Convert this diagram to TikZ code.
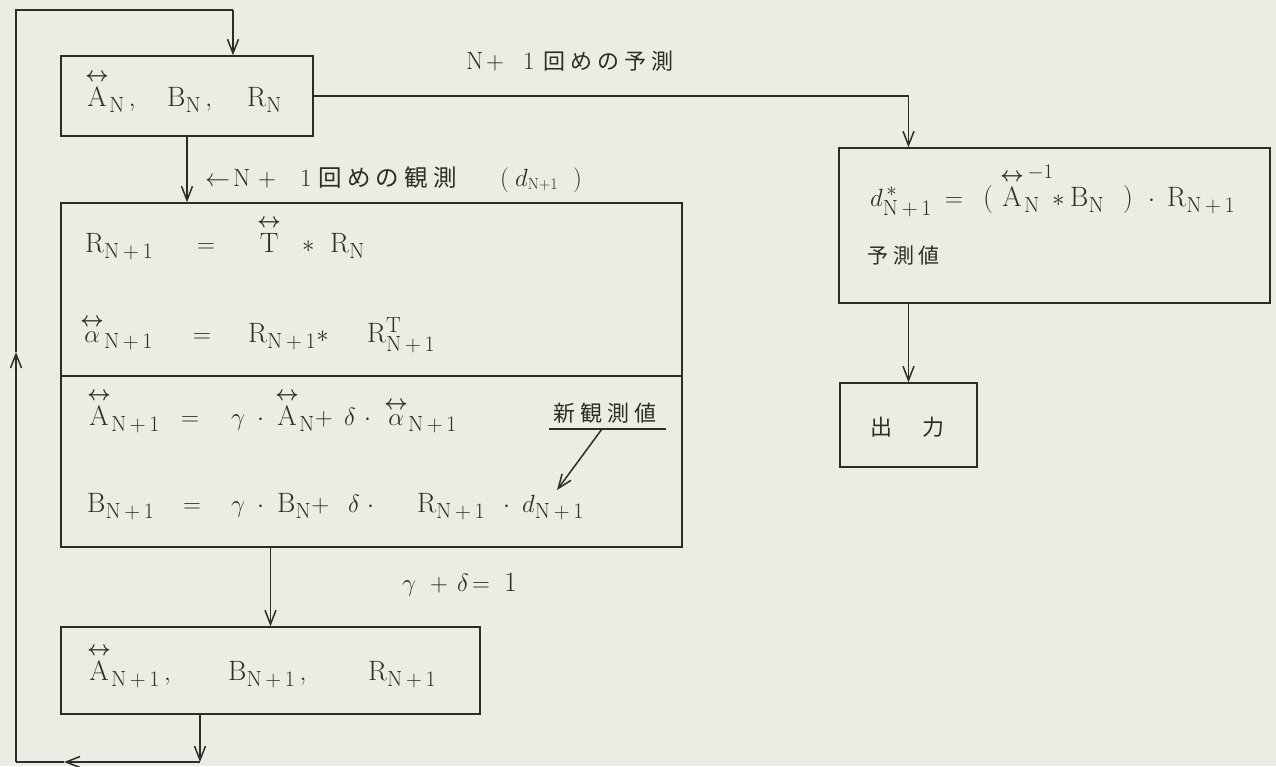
\documentclass[tikz,border=0pt]{standalone}
\usepackage{fontspec}
\usepackage{amsmath}
\usetikzlibrary{arrows.meta}
\newfontfamily\cjk[LetterSpace=23]{Noto Sans CJK JP}
\definecolor{paper}{RGB}{236,236,228}
\definecolor{ink}{RGB}{45,45,40}
\newcommand{\lra}[1]{\overset{\boldsymbol{\scriptstyle\leftrightarrow}}{#1}}
\newcommand{\ix}[1]{_{\text{\fontsize{22}{22}\selectfont #1}}}
\newcommand{\ixp}{_{\text{\fontsize{22}{22}\selectfont N\,+\,1}}}
\newcommand{\iy}[1]{\text{\fontsize{22}{22}\selectfont #1}}
\newcommand{\pc}[2]{\makebox[#1pt][l]{#2}}
\newcommand{\lat}[1]{{\fontsize{25}{25}\selectfont #1}}
\newcommand{\bigplus}{{\fontsize{34}{34}\selectfont$+$}}
\tikzset{
  box/.style={draw=ink, line width=1.5pt, rectangle, inner sep=0pt},
  arr/.style={draw=ink, line width=1.5pt, -{Straight Barb[length=14pt,width=11pt,line width=1.5pt]}},
  ln/.style={draw=ink, line width=1.5pt},
  eq/.style={text=ink, anchor=base west, inner sep=0pt, font=\fontsize{28}{32}\selectfont},
  lbl/.style={text=ink, anchor=base west, inner sep=0pt, font=\fontsize{22}{26}\selectfont},
}
\begin{document}
\begin{tikzpicture}[x=1pt,y=-1pt]
\fill[paper] (0,0) rectangle (1276,766);
\useasboundingbox (0,0) rectangle (1276,766);

% boxes
\node[box, minimum width=252pt, minimum height=80pt] (top) at (187,96) {};
\node[box, minimum width=621pt, minimum height=173pt] (upper) at (371.5,289.5) {};
\node[box, minimum width=621pt, minimum height=171pt] (lower) at (371.5,461.5) {};
\node[box, minimum width=419pt, minimum height=87pt] (bot) at (270.5,670.5) {};
\node[box, minimum width=431pt, minimum height=155pt] (rbox) at (1054.5,225.5) {};
\node[box, minimum width=137pt, minimum height=84pt] (outb) at (908.5,425) {};

% box texts
\node[eq] (toptxt) at (85,106) {\pc{82}{$\lra{\mathrm{A}}\ix{N}\,,$}\pc{80}{$\mathrm{B}\ix{N}\,,$}$\mathrm{R}\ix{N}$};
\node[eq] (bottxt) at (87,680) {\pc{141}{$\lra{\mathrm{A}}\ixp\,,$}\pc{140}{$\mathrm{B}\ixp\,,$}$\mathrm{R}\ixp$};
\node[lbl] (outtxt) at (870,435) {\fontsize{22}{26}\selectfont\cjk \pc{52}{出}力};

% equations
\node[eq] (l1) at (85,252) {\pc{112}{$\mathrm{R}\ixp$}\pc{60}{$=$}\pc{45}{$\lra{\mathrm{T}}$}\pc{28}{$*$}$\mathrm{R}\ix{N}$};
\node[eq] (l2) at (80,342) {\pc{113}{$\lra{\alpha}\ixp$}\pc{55}{$=$}\pc{119}{$\mathrm{R}\ixp{*}$}$\mathrm{R}^{\iy{T}}\ixp$};
\node[eq] (l3) at (87,425) {\pc{94}{$\lra{\mathrm{A}}\ixp$}\pc{50}{$=$}\pc{26}{$\gamma$}\pc{18}{$\cdot$}\pc{69}{$\lra{\mathrm{A}}\ix{N}{+}$}\pc{20}{$\delta$}\pc{20}{$\cdot$}$\lra{\alpha}\ixp$};
\node[eq] (l4) at (87,512) {\pc{96}{$\mathrm{B}\ixp$}\pc{48}{$=$}\pc{26}{$\gamma$}\pc{20}{$\cdot$}\pc{71}{$\mathrm{B}\ix{N}{+}$}\pc{19}{$\delta$}\pc{50}{$\cdot$}\pc{86}{$\mathrm{R}\ixp$}\pc{19}{$\cdot$}$d\ixp$};
\node[eq] (dstar) at (870,206) {\pc{75}{$d^{\,*}\ixp$}\pc{38}{$=$}\pc{17}{(}\pc{52}{$\lra{\mathrm{A}}\ix{N}^{\,-1}$}\pc{18}{$*$}\pc{53}{$\mathrm{B}\ix{N}$}\pc{25}{)}\pc{19}{$\cdot$}$\mathrm{R}\ixp$};
\node[lbl] (yosoku) at (867,263) {\fontsize{21}{26}\selectfont\cjk 予測値};

% labels
\node[lbl] (pred) at (466,69) {\pc{20}{\lat{N}}\pc{37}{\bigplus}\pc{20}{\lat{1}}{\cjk 回めの予測}};
\node[lbl] (obs) at (205,186) {\pc{28}{\fontsize{26}{26}\selectfont$\leftarrow$}\pc{25}{\lat{N}}\pc{42}{\bigplus}\pc{18}{\lat{1}}\pc{182}{\fontsize{23.5}{26}\selectfont\cjk 回めの観測}\pc{15}{\lat{(}}\pc{58}{\fontsize{26}{26}\selectfont$d_{\text{\fontsize{16}{16}\selectfont N+1}}$}\lat{)}};
\node[eq] (sum) at (402,591) {\pc{28}{$\gamma$}\pc{27}{$+$}\pc{15}{$\delta$}\pc{32}{$=$}1};
\node[lbl] (newobs) at (553,421) {\cjk 新観測値};
\coordinate (ula) at (549,429);
\coordinate (ulb) at (666,429);
\draw[ln] (ula) -- (ulb);
\coordinate (ul) at (602,429);
\coordinate (dtip) at (557,490);
\draw[arr] (ul) -- (dtip);

% connectors
\draw[arr] (top.south) -- (top.south |- upper.north);
\draw[arr] (top.east) -| (rbox.north -| outb.north);
\draw[arr] (outb.north |- rbox.south) -- (outb.north);
\draw[arr] (bot.north |- lower.south) -- (bot.north);

% feedback loop
\coordinate (c1) at (200,762);
\coordinate (m1) at (64,762);
\coordinate (c2) at (16,762);
\coordinate (m2) at (16,352);
\coordinate (c3) at (16,10);
\coordinate (c4) at (233,10);
\draw[arr] (c1 |- bot.south) -- (c1);
\draw[arr] (c1) -- (m1);
\draw[ln] (m1) -- (c2);
\draw[arr] (c2) -- (m2);
\draw[ln] (m2) -- (c3) -- (c4);
\draw[arr] (c4) -- (c4 |- top.north);
\end{tikzpicture}
\end{document}
